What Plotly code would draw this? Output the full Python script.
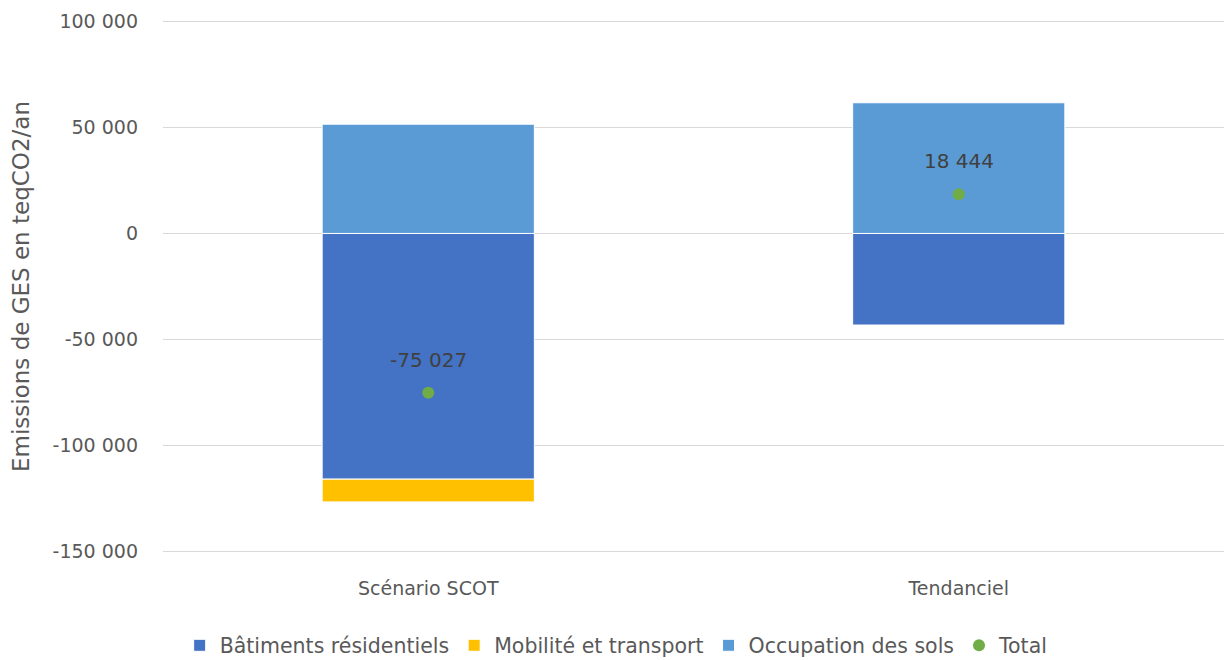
import plotly.graph_objects as go

# Données (teqCO2/an)
scenarios = ["Scénario SCOT", "Tendanciel"]
batiments = [-115800, -43156]
mobilite = [-10727, 0]
occupation = [51500, 61600]
total = [-75027, 18444]
total_labels = ["-75 027", "18 444"]

tick_vals = [-150000, -100000, -50000, 0, 50000, 100000]
tick_labels = ["-150 000", "-100 000", "-50 000", "0", "50 000", "100 000"]

BAT_COLOR = "#4472C4"
MOB_COLOR = "#FFC000"
OCC_COLOR = "#5B9BD5"
TOT_COLOR = "#70AD47"
TEXT_COLOR = "#595959"
FONT = "DejaVu Sans, sans-serif"

fig = go.Figure()

for name, vals, color in [
    ("Bâtiments résidentiels", batiments, BAT_COLOR),
    ("Mobilité et transport", mobilite, MOB_COLOR),
    ("Occupation des sols", occupation, OCC_COLOR),
]:
    fig.add_trace(go.Bar(
        x=scenarios, y=vals, name=name,
        marker=dict(color=color, line=dict(color="white", width=1)),
        hoverinfo="skip",
    ))

fig.add_trace(go.Scatter(
    x=scenarios, y=total, name="Total", mode="markers",
    marker=dict(color=TOT_COLOR, size=12),
))

# étiquettes du total au-dessus des points
for s, v, lab in zip(scenarios, total, total_labels):
    fig.add_annotation(
        x=s, y=v, text=lab, showarrow=False, yshift=33,
        font=dict(size=20, color="#404040", family=FONT),
    )

fig.update_yaxes(
    range=[-150600, 100600],
    tickvals=tick_vals, ticktext=tick_labels,
    gridcolor="#D9D9D9", gridwidth=1,
    zeroline=False,
    showline=False,
    ticklabelstandoff=24,
    tickfont=dict(size=19, color=TEXT_COLOR, family=FONT),
    title=dict(text="Emissions de GES en teqCO2/an",
               font=dict(size=23, color=TEXT_COLOR, family=FONT), standoff=16),
)
fig.update_xaxes(
    showgrid=False, zeroline=False, showline=False,
    ticklabelstandoff=22,
    tickfont=dict(size=19, color=TEXT_COLOR, family=FONT),
)

fig.update_layout(
    barmode="relative",
    bargap=0.6,
    width=1226, height=660,
    margin=dict(l=163, r=2, t=20, b=107),
    plot_bgcolor="white", paper_bgcolor="white",
    font=dict(family=FONT, color=TEXT_COLOR),
    legend=dict(
        orientation="h", xref="container", yref="container",
        x=0.503, xanchor="center", y=0.022, yanchor="middle",
        font=dict(size=20.5, color=TEXT_COLOR, family=FONT),
        itemwidth=30, traceorder="normal",
    ),
)

# pas de marge autour de la page
fig.write_html(
    "out.html",
    config={"displayModeBar": False},
    post_script="document.body.style.margin='0';",
)
